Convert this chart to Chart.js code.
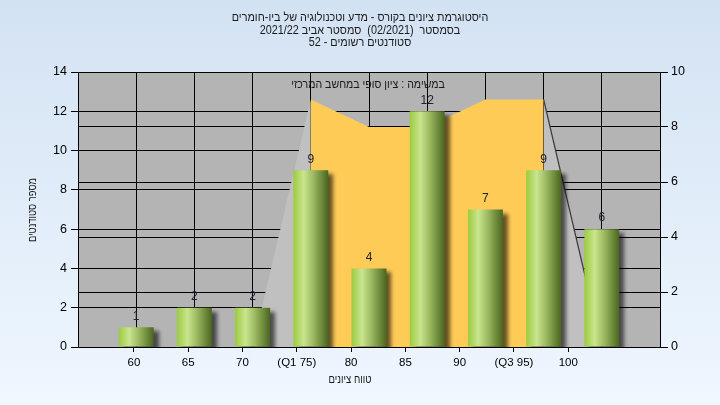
<!DOCTYPE html>
<html><head><meta charset="utf-8">
<script src="https://cdn.jsdelivr.net/npm/chart.js@4.4.0/dist/chart.umd.min.js"></script>
<style>html,body{margin:0;padding:0;overflow:hidden;background:#e6eff9}</style>
</head><body><canvas id="c" width="720" height="405"></canvas>
<script>
// ---- data ----
const categories = ['60','65','70','(Q1 75)','80','85','90','(Q3 95)','100'];
const studentCounts = [1,2,2,9,4,12,7,9,6];
const bandIndex = [3,4,5,6,7];
const bandValues = [9,8,8,9,9];
const leftFaceIndex = [2,3,3];
const leftFaceValues = [0,9,0];
const rightFaceIndex = [7,7,8];
const rightFaceValues = [0,9,0];
const leftTicks = [0,2,4,6,8,10,12,14];
const rightTicks = [0,2,4,6,8,10];
const titleLines = [
  'היסטוגרמת ציונים בקורס - מדע וטכנולוגיה של ביו-חומרים',
  'בסמסטר  (02/2021)  סמסטר אביב 2021/22',
  'סטודנטים רשומים - 52'
];
const legendText = 'במשימה : ציון סופי במחשב המרכזי';
const xTitle = 'טווח ציונים';
const yTitle = 'מספר סטודנטים';

const FONT = '"Liberation Sans", Arial, sans-serif';
const zip = (xs, ys) => xs.map((x,i)=>({x:x, y:ys[i]}));

function barFill(c){
  const ch = c.chart, xs = ch.scales.xb;
  if (!ch.chartArea || !xs || !c.raw) return '#9cc84a';
  const cx = xs.getPixelForValue(c.raw.x);
  const hw = (xs.getPixelForValue(1) - xs.getPixelForValue(0)) * 0.3;
  const g = ch.ctx.createLinearGradient(cx-hw,0,cx+hw,0);
  g.addColorStop(0,'#9ccb3e');
  g.addColorStop(0.3,'#c9e58f');
  g.addColorStop(0.55,'#9fbd64');
  g.addColorStop(1,'#4a661f');
  return g;
}

function heb(ctx, text, x, y, size, sx, rot){
  ctx.save();
  ctx.translate(x, y);
  if (rot) ctx.rotate(rot);
  ctx.scale(sx, 1);
  ctx.direction = 'rtl';
  ctx.textAlign = 'center';
  ctx.textBaseline = 'middle';
  ctx.font = size + 'px ' + FONT;
  ctx.fillText(text, 0, 0);
  ctx.restore();
}

const deco = {
  id:'deco',
  beforeDraw(ch){
    const ctx = ch.ctx, a = ch.chartArea;
    ctx.save();
    const g = ctx.createLinearGradient(0,0,0,ch.height);
    g.addColorStop(0,'#d3e2f3');
    g.addColorStop(1,'#eff7ff');
    ctx.fillStyle = g;
    ctx.fillRect(0,0,ch.width,ch.height);
    ctx.fillStyle = '#b4b4b4';
    ctx.fillRect(a.left,a.top,a.right-a.left,a.bottom-a.top);
    ctx.restore();
  },
  beforeDatasetDraw(ch,args){
    if (args.index === 0){
      const ctx = ch.ctx;
      ctx.save();
      ctx.shadowColor = 'rgba(0,0,0,0.6)';
      ctx.shadowBlur = 4;
      ctx.shadowOffsetX = 5;
      ctx.shadowOffsetY = 4;
    }
  },
  afterDatasetDraw(ch,args){
    if (args.index === 0) ch.ctx.restore();
  },
  afterDraw(ch){
    const ctx = ch.ctx;
    ctx.save();
    ctx.fillStyle = '#1a1a1a';
    const ty = [17.5, 30.5, 42.5];
    titleLines.forEach((t,i)=>heb(ctx, t, 360, ty[i], 12, 0.9));
    heb(ctx, legendText, 368, 85, 12, 0.88);
    heb(ctx, xTitle, 350, 380, 12, 0.8);
    heb(ctx, yTitle, 33, 210, 11, 0.85, -Math.PI/2);
    const meta = ch.getDatasetMeta(0);
    ctx.textAlign = 'center';
    ctx.textBaseline = 'middle';
    ctx.font = '12px ' + FONT;
    ctx.fillStyle = '#202030';
    meta.data.forEach((el,i)=>{
      ctx.fillText(String(studentCounts[i]), el.x, el.y - 11);
    });
    ctx.restore();
  }
};

new Chart(document.getElementById('c'), {
  data:{
    datasets:[
      {type:'bar', data: zip(categories.map((_,i)=>i), studentCounts), xAxisID:'xb', yAxisID:'y',
       backgroundColor: barFill, borderWidth:0, barPercentage:0.6, categoryPercentage:1, clip:0, order:0},
      {type:'line', data: zip(bandIndex, bandValues), xAxisID:'xb', yAxisID:'y2',
       fill:'origin', backgroundColor:'#ffcb57', borderColor:'transparent', borderWidth:1,
       pointRadius:0, tension:0, order:1},
      {type:'line', data: zip(leftFaceIndex, leftFaceValues), xAxisID:'xb', yAxisID:'y2',
       fill:'origin', backgroundColor:'#c0c0c0', borderColor:'transparent', borderWidth:1,
       pointRadius:0, tension:0, order:2},
      {type:'line', data: zip(rightFaceIndex, rightFaceValues), xAxisID:'xb', yAxisID:'y2',
       fill:'origin', backgroundColor:'#c0c0c0', borderWidth:1.2,
       segment:{borderColor: c => c.p0DataIndex === 1 ? '#3a3a3a' : 'transparent'},
       pointRadius:0, tension:0, order:2}
    ]
  },
  options:{
    responsive:false, animation:false, devicePixelRatio:1,
    layout:{padding:0},
    plugins:{legend:{display:false}, tooltip:{enabled:false}, title:{display:false}},
    scales:{
      xb:{type:'linear', position:'top', min:-1, max:categories.length, offset:false,
        afterBuildTicks: s => { s.ticks = []; for(let v=-1; v<=categories.length; v++) s.ticks.push({value:v}); },
        ticks:{display:false}, grid:{color:'#000', lineWidth:1, drawTicks:false, offset:false},
        border:{display:true, color:'#000'},
        afterFit: s => { s.height = 72; }},
      xl:{type:'linear', position:'bottom', min:-1.03, max:9.69, offset:false,
        afterBuildTicks: s => { s.ticks = categories.map((_,i)=>({value:i})); },
        ticks:{callback: v => categories[v], color:'#000', font:{family:FONT, size:11.5}, padding:4, maxRotation:0, autoSkip:false},
        grid:{drawOnChartArea:false, color:'#000', tickLength:5, offset:false},
        border:{display:true, color:'#000'},
        afterFit: s => { s.height = 58; }},
      y:{type:'linear', position:'left', min:0, max:14,
        afterBuildTicks: s => { s.ticks = leftTicks.map(v=>({value:v})); },
        ticks:{color:'#000', font:{family:FONT, size:12.5}, padding:4},
        grid:{color:'#000', lineWidth:1, tickLength:7},
        border:{display:true, color:'#000'},
        afterFit: s => { s.width = 78; }},
      y2:{type:'linear', position:'right', min:0, max:10,
        afterBuildTicks: s => { s.ticks = rightTicks.map(v=>({value:v})); },
        ticks:{color:'#000', font:{family:FONT, size:12.5}, padding:3},
        grid:{color:'#000', lineWidth:1, tickLength:8},
        border:{display:true, color:'#000'},
        afterFit: s => { s.width = 60; }}
    }
  },
  plugins:[deco]
});
</script></body></html>
